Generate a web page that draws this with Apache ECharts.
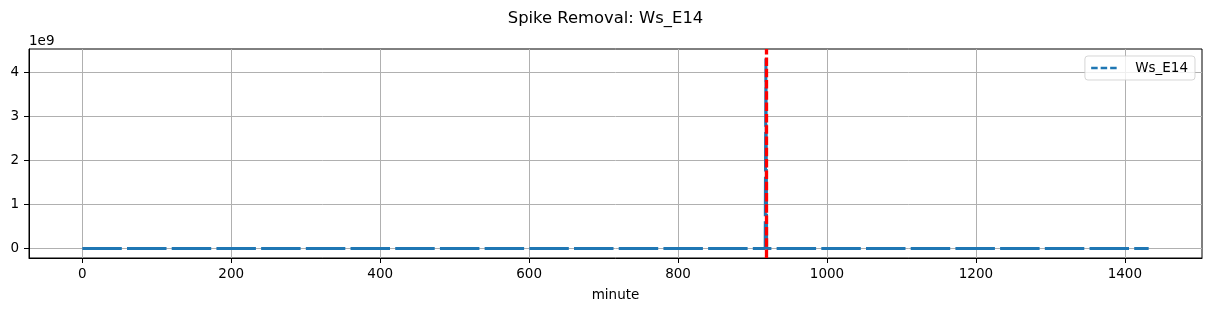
<!DOCTYPE html>
<html>
<head>
<meta charset="utf-8">
<script src="https://cdn.jsdelivr.net/npm/echarts@6/dist/echarts.min.js"></script>
<style>
html,body{margin:0;padding:0;background:#fff;}
#chart{width:1211px;height:311px;}
</style>
</head>
<body>
<div id="chart"></div>
<script>
// Data (values ~0 everywhere except a single spike)
const minutes = [0, 917, 918, 919, 1432];
const wsE14 = [0, 0, 4.32e9, 0, 0];
const spikeMinutes = [918];
const xTicks = [0, 200, 400, 600, 800, 1000, 1200, 1400];
const yTicks = [0, 1e9, 2e9, 3e9, 4e9];
const seriesName = 'Ws_E14';
const titleText = 'Spike Removal: Ws_E14';

const FONT = 'DejaVu Sans';
const FS = 13.5;
const chart = echarts.init(document.getElementById('chart'), null, {renderer: 'canvas'});

const xMin = -71.6, xMax = 1503.6;
const yMax0 = Math.max(...wsE14), yMin0 = Math.min(...wsE14);
const yRange = yMax0 - yMin0;
const yMin = yMin0 - 0.05 * yRange, yMax = yMax0 + 0.05 * yRange;

chart.setOption({
  animation: false,
  backgroundColor: '#ffffff',
  title: {
    text: titleText,
    left: 'center',
    top: 6,
    textStyle: {fontFamily: FONT, fontSize: 16.4, fontWeight: 'normal', color: '#000'}
  },
  grid: {
    left: 29, right: 9, top: 49, bottom: 53,
    show: true, borderColor: '#000', borderWidth: 1, backgroundColor: 'transparent'
  },
  legend: {
    right: 16, top: 56,
    orient: 'vertical',
    padding: [5, 7, 5, 5],
    backgroundColor: 'rgba(255,255,255,0.8)',
    borderColor: 'rgba(204,204,204,0.8)',
    borderWidth: 1,
    borderRadius: 3,
    itemWidth: 28, itemHeight: 14,
    itemStyle: {opacity: 0},
    lineStyle: {type: [6.5, 3], width: 2.5},
    textStyle: {fontFamily: FONT, fontSize: FS, color: '#000', padding: [0, 0, 0, 11]},
    data: [{name: seriesName}]
  },
  xAxis: {
    type: 'value', min: xMin, max: xMax,
    name: 'minute', nameLocation: 'middle', nameGap: 30,
    nameTextStyle: {fontFamily: FONT, fontSize: FS, color: '#000'},
    axisLine: {show: true, onZero: false, lineStyle: {color: '#000', width: 1}},
    axisTick: {show: true, inside: false, length: 5, customValues: xTicks, lineStyle: {color: '#000', width: 1}},
    axisLabel: {customValues: xTicks, margin: 9, fontFamily: FONT, fontSize: FS, color: '#000',
      formatter: v => String(v)},
    splitLine: {show: true, lineStyle: {color: '#b0b0b0', width: 1}}
  },
  yAxis: {
    type: 'value', min: yMin, max: yMax,
    name: '1e9', nameLocation: 'end', nameGap: 1,
    nameTextStyle: {fontFamily: FONT, fontSize: FS, color: '#000', align: 'left', verticalAlign: 'bottom'},
    axisLine: {show: true, onZero: false, lineStyle: {color: '#000', width: 1}},
    axisTick: {show: true, inside: false, length: 5, customValues: yTicks, lineStyle: {color: '#000', width: 1}},
    axisLabel: {customValues: yTicks, margin: 10, fontFamily: FONT, fontSize: FS, color: '#000',
      formatter: v => String(Math.round(v / 1e9))},
    splitLine: {show: true, lineStyle: {color: '#b0b0b0', width: 1}}
  },
  series: [
    {
      name: seriesName,
      type: 'line',
      data: minutes.map((m, i) => [m, wsE14[i]]),
      showSymbol: false, symbol: 'none',
      lineStyle: {color: '#1f77b4', width: 3, type: [39.5, 5.2]},
      itemStyle: {color: '#1f77b4'},
      z: 2,
      markLine: {
        silent: true,
        symbol: ['none', 'none'],
        label: {show: false},
        lineStyle: {color: '#ff0000', width: 3.3, type: [8.5, 2.8], opacity: 1},
        emphasis: {disabled: true},
        data: spikeMinutes.map(m => ({xAxis: m})),
        z: 5
      }
    }
  ]
});
</script>
</body>
</html>
